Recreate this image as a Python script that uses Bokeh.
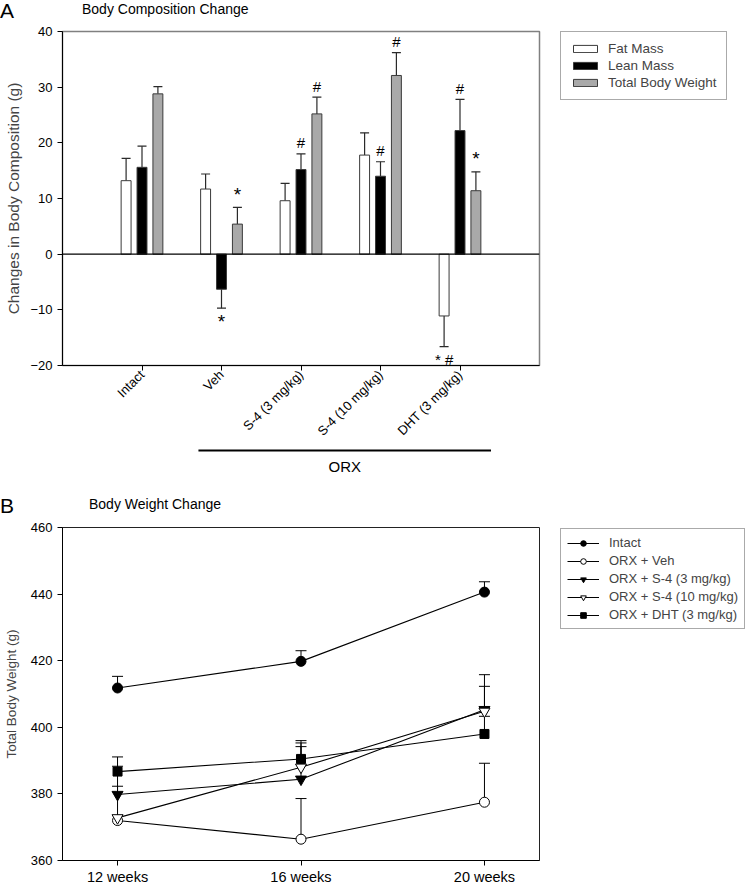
import math
import numpy as np
from bokeh.plotting import figure
from bokeh.models import (FixedTicker, Whisker, TeeHead, Span, Legend, LegendItem,
                          ColumnDataSource, Range1d, Div)
from bokeh.layouts import column
from bokeh.embed import file_html
from bokeh.resources import INLINE
from bokeh.core.properties import value

FONT = "Liberation Sans"

# ---------------- Panel A data ----------------
groups = ["Intact", "Veh", "S-4 (3 mg/kg)", "S-4 (10 mg/kg)", "DHT (3 mg/kg)"]
series_names = ["Fat Mass", "Lean Mass", "Total Body Weight"]
fat_mass = [13.2, 11.7, 9.6, 17.8, -11.1]
fat_sem = [4.0, 2.7, 3.1, 4.0, 5.5]
lean_mass = [15.6, -6.3, 15.2, 14.0, 22.2]
lean_sem = [3.8, 3.4, 2.8, 2.6, 5.6]
total_weight = [28.8, 5.4, 25.2, 32.1, 11.4]
total_sem = [1.3, 3.0, 3.0, 4.1, 3.4]
# (group index, series index, symbol)
significance = [(1, 1, "*"), (1, 2, "*"), (2, 1, "#"), (2, 2, "#"),
                (3, 1, "#"), (3, 2, "#"), (4, 0, "* #"), (4, 1, "#"), (4, 2, "*")]
orx_first, orx_last = 1, 4   # groups under the "ORX" bracket

# ---------------- Panel B data ----------------
weeks = ["12 weeks", "16 weeks", "20 weeks"]
bw_names = ["Intact", "ORX + Veh", "ORX + S-4 (3 mg/kg)", "ORX + S-4 (10 mg/kg)", "ORX + DHT (3 mg/kg)"]
bw_intact = [411.8, 419.8, 440.6]
bw_intact_sem = [3.5, 3.2, 3.1]
bw_veh = [372.0, 366.4, 377.5]
bw_veh_sem = [1.5, 12.2, 11.7]
bw_s4_3 = [379.8, 384.4, 405.3]
bw_s4_3_sem = [2.5, 9.8, 7.0]
bw_s4_10 = [372.8, 388.0, 404.8]
bw_s4_10_sem = [15.5, 7.3, 11.0]
bw_dht = [386.7, 390.5, 398.0]
bw_dht_sem = [4.4, 5.5, 5.3]

W = 734


def header(h, letter, title, letter_top, title_left, title_top):
    html = (
        f'<div style="position:relative;width:{W}px;height:{h}px;font-family:\'{FONT}\';color:black;">'
        f'<span style="position:absolute;left:0px;top:{letter_top}px;font-size:21px;line-height:22px;">{letter}</span>'
        f'<span style="position:absolute;left:{title_left}px;top:{title_top}px;font-size:14px;line-height:16px;white-space:nowrap;">{title}</span>'
        '</div>'
    )
    return Div(text=html, width=W, height=h, margin=(0, 0, 0, 0))


# ================= Panel A =================
head_a = header(22, "A", "Body Composition Change", 0, 82, 1)

pa = figure(frame_width=477, frame_height=334, x_range=Range1d(0, 6), y_range=Range1d(-20, 40),
            output_backend="svg", toolbar_location=None,
            min_border_left=55, min_border_right=202, min_border_top=9, min_border_bottom=82)
pa.xgrid.visible = False
pa.ygrid.visible = False
pa.outline_line_color = "#808080"
pa.outline_line_width = 1.5

pa.yaxis.ticker = FixedTicker(ticks=[-20, -10, 0, 10, 20, 30, 40])
pa.xaxis.ticker = FixedTicker(ticks=[1, 2, 3, 4, 5])
pa.xaxis.major_label_overrides = {i + 1: g for i, g in enumerate(groups)}
pa.xaxis.major_label_orientation = math.pi / 4
for ax in (pa.xaxis, pa.yaxis):
    ax.minor_tick_line_color = None
    ax.major_tick_in = 0
    ax.major_tick_out = 5
    ax.axis_line_color = "black"
    ax.major_tick_line_color = "black"
    ax.major_label_text_font = FONT
    ax.major_label_text_color = "black"
pa.yaxis.major_label_text_font_size = "13px"
pa.xaxis.major_label_text_font_size = "13px"
pa.yaxis.major_label_standoff = 5
pa.xaxis.major_label_standoff = 2
pa.yaxis.axis_label = "Changes in Body Composition (g)"
pa.yaxis.axis_label_text_font = FONT
pa.yaxis.axis_label_text_font_style = "normal"
pa.yaxis.axis_label_text_font_size = "15.5px"
pa.yaxis.axis_label_standoff = 5

pa.add_layout(Span(location=0, dimension="width", line_color="black", line_width=1.2))

values = [fat_mass, lean_mass, total_weight]
sems = [fat_sem, lean_sem, total_sem]
fills = ["white", "black", "#a9a9a9"]
offsets = [-0.2, 0.0, 0.2]
bar_w = 0.125
xc = np.arange(1, len(groups) + 1)
bar_renderers = []
for vals, sem, fc, off in zip(values, sems, fills, offsets):
    xs = xc + off
    r = pa.vbar(x=xs, top=vals, bottom=0, width=bar_w, fill_color=fc,
                line_color="#3a3a3a", line_width=1)
    bar_renderers.append(r)
    v = np.array(vals); s = np.array(sem)
    pos = v >= 0
    src_pos = ColumnDataSource(dict(base=xs[pos], lower=v[pos], upper=v[pos] + s[pos]))
    src_neg = ColumnDataSource(dict(base=xs[~pos], lower=v[~pos] - s[~pos], upper=v[~pos]))
    pa.add_layout(Whisker(source=src_pos, base="base", lower="lower", upper="upper",
                          lower_head=None, upper_head=TeeHead(size=9, line_color="#2a2a2a", line_width=1.2),
                          line_color="#2a2a2a", line_width=1.2, level="underlay"))
    pa.add_layout(Whisker(source=src_neg, base="base", lower="lower", upper="upper",
                          upper_head=None, lower_head=TeeHead(size=9, line_color="#2a2a2a", line_width=1.2),
                          line_color="#2a2a2a", line_width=1.2, level="underlay"))

sx, sy, st, sfs = [], [], [], []
for gi, si, sym in significance:
    v = values[si][gi]; s = sems[si][gi]
    x = xc[gi] + offsets[si]
    if v >= 0:
        y = v + s + (2.4 if sym == "*" else 2.0)
    else:
        y = v - s - 2.4
    sx.append(x); sy.append(y); st.append(sym)
    sfs.append("19px" if sym == "*" else "15px")
pa.text(x=sx, y=sy, text=st, text_font=value(FONT), text_font_size=sfs,
        text_align="center", text_baseline="middle", text_color="black")

legend_a = Legend(items=[LegendItem(label=n, renderers=[r]) for n, r in zip(series_names, bar_renderers)],
                  location=(21, 265), margin=0, padding=9, spacing=2,
                  glyph_width=30, glyph_height=9, label_height=15, label_standoff=8,
                  label_text_font=FONT, label_text_font_size="13.5px",
                  border_line_color="#555555", border_line_width=1.2, background_fill_color="white")
pa.add_layout(legend_a, "right")

# ORX bracket strip, aligned with panel A's x scale
orx = figure(frame_width=477, frame_height=31, x_range=pa.x_range, y_range=Range1d(0, 31),
             x_axis_type=None, y_axis_type=None, toolbar_location=None, output_backend="svg",
             min_border_left=55, min_border_right=202, min_border_top=0, min_border_bottom=0)
orx.outline_line_color = None
bx0 = xc[orx_first] - 0.29
bx1 = xc[orx_last] + 0.39
orx.line(x=[bx0, bx1], y=[28, 28], line_color="black", line_width=2)
orx.text(x=[(bx0 + bx1) / 2], y=[12], text=["ORX"], text_font=value(FONT), text_font_size="15px",
         text_align="center", text_baseline="middle", text_color="black")

# ================= Panel B =================
head_b = header(40, "B", "Body Weight Change", 17, 89, 18)

pb = figure(frame_width=477, frame_height=333, x_range=Range1d(-0.3, 2.3), y_range=Range1d(360, 460),
            output_backend="svg", toolbar_location=None,
            min_border_left=57, min_border_right=200, min_border_top=9, min_border_bottom=23)
pb.xgrid.visible = False
pb.ygrid.visible = False
pb.outline_line_color = "#222222"
pb.yaxis.ticker = FixedTicker(ticks=[360, 380, 400, 420, 440, 460])
pb.xaxis.ticker = FixedTicker(ticks=[0, 1, 2])
pb.xaxis.major_label_overrides = {i: w for i, w in enumerate(weeks)}
for ax in (pb.xaxis, pb.yaxis):
    ax.minor_tick_line_color = None
    ax.major_tick_in = 0
    ax.major_tick_out = 5
    ax.axis_line_color = "black"
    ax.major_tick_line_color = "black"
    ax.major_label_text_font = FONT
    ax.major_label_text_color = "black"
pb.yaxis.major_label_text_font_size = "13px"
pb.xaxis.major_label_text_font_size = "14.5px"
pb.yaxis.major_label_standoff = 5
pb.xaxis.major_label_standoff = 3
pb.yaxis.axis_label = "Total Body Weight (g)"
pb.yaxis.axis_label_text_font = FONT
pb.yaxis.axis_label_text_font_style = "normal"
pb.yaxis.axis_label_text_font_size = "13.5px"
pb.yaxis.axis_label_standoff = 9

bw_vals = [bw_intact, bw_veh, bw_s4_3, bw_s4_10, bw_dht]
bw_sems = [bw_intact_sem, bw_veh_sem, bw_s4_3_sem, bw_s4_10_sem, bw_dht_sem]
markers = ["circle", "circle", "inverted_triangle", "inverted_triangle", "square"]
mfills = ["black", "white", "black", "white", "black"]
msizes = [10, 10, 11, 11, 9]
xw = np.arange(len(weeks))
items_b = []
for name, vals, sem, mk, mf, ms in zip(bw_names, bw_vals, bw_sems, markers, mfills, msizes):
    v = np.array(vals); s = np.array(sem)
    src = ColumnDataSource(dict(base=xw, lower=v, upper=v + s))
    pb.add_layout(Whisker(source=src, base="base", lower="lower", upper="upper", lower_head=None,
                          upper_head=TeeHead(size=11, line_color="black", line_width=1),
                          line_color="black", line_width=1, level="underlay"))
    lr = pb.line(x=xw, y=vals, line_color="black", line_width=1.1)
    mr = pb.scatter(x=xw, y=vals, marker=mk, size=ms, fill_color=mf, line_color="black", line_width=1)
    items_b.append(LegendItem(label=name, renderers=[lr, mr]))

legend_b = Legend(items=items_b, location=(21, 231), margin=0, padding=6, spacing=3,
                  glyph_width=32, glyph_height=14, label_height=14, label_standoff=10,
                  label_text_font=FONT, label_text_font_size="13px",
                  border_line_color="#555555", border_line_width=1.2, background_fill_color="white")
pb.add_layout(legend_b, "right")

layout = column(head_a, pa, orx, head_b, pb, spacing=0)
open("out.html", "w").write(file_html(layout, INLINE))
